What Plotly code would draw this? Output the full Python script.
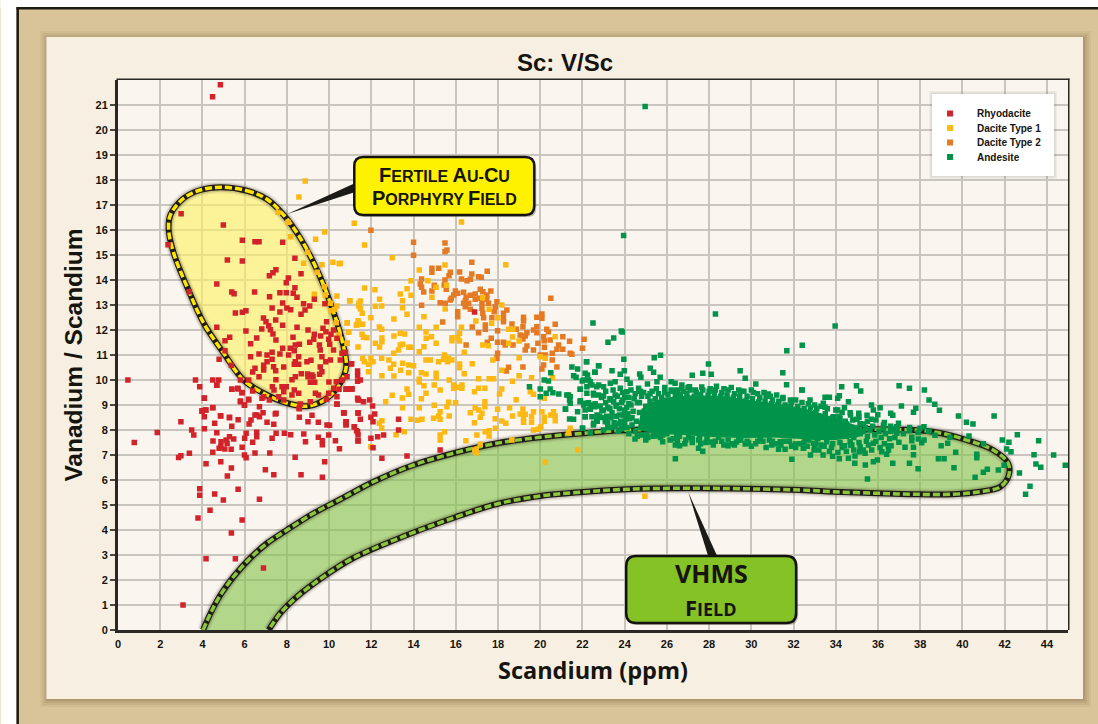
import plotly.graph_objects as go

title_text = "Sc: V/Sc"
x_title = "Scandium (ppm)"
y_title = "Vanadium / Scandium"
x_ticks = list(range(0, 45, 2))
y_ticks = list(range(0, 22))
legend_names = ["Rhyodacite", "Dacite Type 1", "Dacite Type 2", "Andesite"]

rhyodacite = [(4.48,21.33),(4.85,21.81),(2.99,16.65),(.47,10),(.77,7.5),(1.86,7.9),(3.08,1),(2.98,8.33),(3.49,8),(3.59,7.8),(2.87,6.9),(2.98,6.97),(3.38,7.07),(3.67,10),(3.87,9.73),(4.09,9.27),(3.98,8.75),(4.17,8.8),(4.09,8.53),(4.09,8.05),(4.49,10),(4.77,10),(4.68,9.8),(5.39,9.63),(5.69,9.64),(5.88,9.5),(5.8,9.13),(5.99,9),(6.19,9.2),(4.49,8.9),(4.87,8.56),(5.28,8.49),(5.69,8.41),(4.58,8.27),(5.39,8.15),(4.68,7.89),(4.5,7.56),(5.28,7.73),(5.48,7.64),(5.12,7.6),(4.88,7.53),(5.17,7.47),(4.87,7.33),(4.79,7.27),(5.06,7.24),(5.36,7.23),(4.49,7.11),(5.88,7.31),(5.99,7),(6.07,6.89),(6,7.67),(6.07,7.87),(6.38,7.51),(6.57,7.91),(6.57,7.73),(6.49,7.08),(7.19,7.08),(6.21,8.24),(6.3,8.4),(6.49,8.6),(6.7,8.53),(6.7,8.93),(6.87,8.69),(7.06,8.31),(7.38,8.23),(7.49,8.67),(7.3,7.67),(7.49,7.87),(7.88,7.87),(8.18,7.81),(8.8,7.84),(8.88,7.53),(8.59,8.51),(8.58,8.87),(9,8.33),(9.19,8.59),(9.49,8.31),(9.9,8.2),(10.02,8.19),(9.98,7.8),(9.49,7.71),(9.68,7.57),(9.68,7.41),(10.3,7.57),(10.49,7.25),(10.71,8.68),(10.81,8.33),(10.81,8.23),(11.2,8.13),(11.3,7.97),(11.37,7.8),(11.37,7.56),(10.38,9.03),(10.85,9.63),(10.47,9.63),(11.09,9.64),(11.37,9.2),(11.37,8.67),
(4.17,6.65),(4.87,6.73),(5.37,6.48),(5.18,6.16),(6.98,6.41),(7.38,6.21),(8.39,6.91),(8.67,6.21),(9.79,6.73),(9.68,6.11),(3.87,5.65),(3.87,5.39),(4.58,5.44),(4.99,5.2),(5.69,5.63),(6.7,5.23),(3.79,4.48),(4.36,4.79),(5.88,4.4),(5.37,3.88),(4.17,2.85),(5.56,2.85),(6.89,2.48),
(4.99,16.2),(2.37,15.41),(5.89,15.59),(6.49,15.53),(6.68,15.53),(7.8,15.51),(5.18,14.8),(5.89,14.76),(8.38,14.87),(7.48,14.41),(7.34,14.29),(7.17,14.17),(8.67,14.25),(8.07,14.08),(7.97,13.89),(4.68,13.84),(3.38,13.53),(5.39,13.52),(5.5,13.45),(6.47,13.52),(8.38,13.69),(8.3,13.47),(7.67,13.49),(7.97,13.49),(8.48,13.31),(7.18,13.33),(9.3,13.23),(7.8,13.08),(8.79,13.05),(9.08,12.96),(9.8,13.05),(7.3,12.88),(8.0,12.88),(8.18,12.81),(8.86,12.8),(5.56,12.68),(5.89,12.71),(6.06,12.77),(7.67,12.72),(8.67,12.63),(6.89,12.48),(7.01,12.33),(7.47,12.4),(7.14,12.17),(7.22,12.01),(7.8,12.19),(8.48,12.11),(9.88,12.33),(4.68,12.11),(6.06,11.96),(6.81,12.04),(9,12),(9.71,12.07),(7.34,11.84),(9.3,11.83),(9.6,11.76),(9.85,11.93),(10.09,11.83),(10.21,12),(5.29,11.71),(5.07,11.57),(6.57,11.68),(7.48,11.6),(8.29,11.71),(9.27,11.63),(9.98,11.63),(10.37,11.67),(9.08,11.51),(9.54,11.4),(10.03,11.43),(6.28,11.45),(7.8,11.27),(8.4,11.4),(8.59,11.43),(8.16,11.27),(8.35,11.17),(9.58,11.2),(10.21,11.2),(5.07,11.17),(6.28,10.93),(6.68,11.04),(7.06,11),(7.3,11.11),(7.67,11.04),(8.08,11),(8.56,10.93),(9.66,10.93),(10.06,10.8),(10.61,11.07),(10.77,11.11),(10.53,10.8),(4.79,10.83),(7.3,10.83),(7.06,10.73),(8.4,10.73),(8.56,10.63),(8.35,10.63),(8.95,10.73),(9.14,10.79),(9.84,10.73),(11.07,10.65),(5.37,10.59),(6.9,10.59),(7.37,10.53),(6.49,10.47),(7.85,10.52),(9.58,10.52),(6.9,10.4),(7.47,10.37),(6.38,10.32),(9.66,10.33),(9.55,10.23),(8.68,10.25),(8.98,10.24),(9.19,10.2),(6.68,10.13),(5.8,10),(6.19,10),(7.48,10.01),(8.24,10.01),(8.4,10.13),(9,10.13),(9.24,10.13),(9.11,9.91),(9.32,9.91),(9.99,9.92),(10.34,9.93),(10.61,10),(10.85,10.13),(11.35,10.17),(4.68,9.79),(5.39,9.63),(5.67,9.67),(5.87,9.49),(7.31,9.73),(7.39,9.6),(7.77,9.73),(7.97,9.73),(8.35,9.6),(7.85,9.53),(10.22,9.67),(10.8,9.63),(11.07,9.65),(11.35,9.95),(6.9,9.33),(6.38,9.56),(7.61,9.33),(8.24,9.4),(8.56,9.47),(9.35,9.47),(9.5,9.4),(9.98,9.47),(10.37,9.33),(4.09,9.28),(6.19,9.23),(5.8,9.16),(5.99,8.99),(6.82,9.27),(7.17,9.2),(7.85,9.2),(9.11,9.13),(8.64,9.04),(10.37,9.04),(9.87,9.23),(11.4,9.2),(4.49,8.89),(3.98,8.77),(4.14,8.8),(4.85,8.57),(5.28,8.51),(6.58,8.6),(7.45,8.64),(8.59,8.85),(10.69,8.69),
(11.05,10.64),(11.35,10.36),(11.48,10),(10.81,9.64),(11.05,9.64),(11.35,9.27),(11.63,9.13),(11.92,9.2),(12.06,8.96),(10.69,8.69),(11.37,8.69),(12.16,8.64),(11.98,8.51),(11.48,8.43),(12.08,8.33),(10.8,8.33),(10.8,8.2),(11.19,8.13),(11.35,7.93),(11.37,7.57),(11.98,7.67),(12.3,7.73),(12.58,7.8),(13.29,8.43),(13.29,8),(12.08,7.29),(12.5,6.87),(13.69,6.96),(15.26,7.2),(16.89,12.72)]

dacite_type_1 = [(11.19,16.27),(16.27,16.32),(11.68,15.4),(12.99,14.89),(10.53,14.67),(18.37,14.61),(14.27,14.4),(15.49,14.6),(13.88,13.97),(14.68,13.97),(11.68,13.68),(12.17,13.61),(13.69,13.65),(13.37,13.44),(13.88,13.39),(14.87,13.31),(15.07,13.71),(15.56,13.79),(10.97,13.17),(11.48,13.16),(12.39,13.23),(13.48,13.17),(11.4,13),(12.19,12.95),(12.49,12.96),(13.48,12.89),(11.48,12.85),(11.57,12.67),(13.69,12.63),(15.5,12.84),(17.27,13.29),(18.18,13),(17.58,12.83),(11.98,12.49),(13.07,12.44),(14.49,12.53),(17.99,12.49),(16.95,12.36),(11.37,12.37),(10.85,12.28),(11.29,12.2),(11.59,12.23),(12.38,12.12),(12.49,12.03),(14.27,12.11),(15.07,12.11),(16.27,12.11),(17.7,12.27),(18.5,12.03),(18.71,12.03),(10.92,11.91),(14.59,11.92),(16.18,11.87),(11.56,11.83),(11.63,11.71),(11.79,11.69),(12.5,11.68),(13.07,11.76),(13.37,11.87),(13.58,11.84),(14.85,11.73),(14.6,11.67),(15.82,11.69),(16.09,11.69),(18.69,11.72),(20.71,11.73),(19.0,11.56),(12.5,11.53),(12.19,11.47),(10.85,11.47),(15.07,11.47),(15.82,11.57),(16.18,11.56),(18.5,11.47),(17.28,11.4),(17.55,11.37),(11.37,11.32),(12.39,11.32),(13.37,11.4),(13.48,11.43),(13.29,11.2),(13.77,11.31),(13.88,11.31),(14.49,11.33),(13.06,11.07),(14.27,11.13),(16.4,11.11),(11.59,10.87),(11.98,10.87),(11.67,10.73),(12.49,10.87),(12.83,10.8),(12.08,10.73),(11.87,10.63),(13.06,10.63),(14.59,10.8),(14.79,10.8),(15.19,10.73),(15.47,11),(15.42,10.83),(15.66,10.87),(15.82,10.8),(15.61,10.73),(17.76,10.8),(19.0,10.89),(20.0,10.93),(20.24,10.87),(13.48,10.67),(13.77,10.6),(14,10.57),(16.18,10.64),(16.18,10.49),(16.78,10.65),(12.9,10.47),(13.39,10.39),(11.87,10.33),(13.77,10.29),(14.37,10.29),(14.59,10.24),(15.07,10.27),(15.07,10.09),(16.4,10.25),(18.18,10.39),(12.5,10.17),(13.07,10.16),(19,10.17),(14.27,10.03),(14.27,9.92),(15.69,10),(17.08,10.05),(17.58,10.05),(17.79,10.05),(18.69,9.95),(19.59,10.09),(20.58,10.09),(14.49,9.77),(14.98,9.8),(15.9,9.8),(15.9,9.67),(16.09,9.71),(16.29,9.8),(16.29,9.67),(13.69,9.64),(13.77,9.43),(14.59,9.47),(15.26,9.6),(16.89,9.53),(17.08,9.67),(17.38,9.67),(18.18,9.64),(18.07,9.44),(19.53,9.53),(19.68,9.43),(12.99,9.39),(13.47,9.28),(14.37,9.25),(12.68,9.13),(20.19,9.27),(18.86,9.21),(14.98,8.99),(15.66,9.11),(15.99,9.09),(15.58,8.93),(17.38,9.13),(17.38,8.93),(13.48,8.89),(14.27,8.89),(16.92,8.89),(17.08,8.8),(18.55,8.89),(17.98,8.83),(19.18,8.84),(19.68,8.73),(20.08,8.73),(20.63,8.73),(15.26,8.73),(16.69,8.69),(17.24,8.67),(19.05,8.64),(19.29,8.63),(18.69,8.56),(20.5,8.6),(20.71,8.56),(15.19,8.56),(15.69,8.56),(17.16,8.51),(14.95,8.47),(15.26,8.43),(13.88,8.43),(14.19,8.39),(14.4,8.43),(12.5,8.37),(12.38,8.27),(12.49,8.08),(17.87,8.45),(18.18,8.36),(18.37,8.27),(19.21,8.47),(19.21,8.31),(19.59,8.53),(19.59,8.31),(20.19,8.51),(20.19,8.35),(20.71,8.37),(16.89,8.29),(17.88,8.07),(13.56,7.93),(13.17,7.81),(15.47,7.93),(15.26,7.8),(17.39,7.93),(17.58,7.97),(17,7.8),(17.58,7.76),(15.26,7.6),(19.68,8),(19.92,8.03),(20.03,8.13),(21.42,8.07),(21.34,7.89),(16.48,7.57),(18.66,7.6),(17.16,7.43),(16.97,7.23),(16.97,7.09),(21.77,7.2),(11.98,7.33),
(8.87,17.96),(8.57,17.32),(7.58,16.71),(8.05,16.31),(9.79,15.92),(9.36,15.63),(8.18,15.73),(8.98,15.11),(8.79,14.67),(9.66,14.61),(10.18,14.71),(10.48,14.65),(9.43,14.31),(9.77,13.73),(9.3,13.43),(10.37,13.36),(10.99,13.17),(11.42,13.07),(9.82,13.4),(10.06,13.07),(10.37,12.96),(10.09,12.77),(10.26,12.83),(10.86,12.29),(11.42,12.27),(11.32,12.2),(10.34,12.29),(10.93,11.91),(10.48,11.8),(10.86,11.47),(11.42,12.96),(24.96,5.35),(20.24,6.72),(16.9,7.2)]

dacite_type_2 = [(11.98,15.99),(14,15.51),(15.49,15.48),(14,14.99),(15.49,15.13),(15.58,15.2),(16.76,14.71),(15.19,14.47),(14.87,14.47),(14.87,14.31),(16.18,14.32),(17.49,14.35),(15.74,14.31),(15.68,14.17),(16.76,14.24),(17.08,14.13),(17.21,14.11),(14.38,14.04),(15.49,14),(16.27,14.04),(16.53,13.97),(16.69,14.03),(14.32,13.84),(14.98,13.79),(15.45,13.8),(14.38,13.71),(14.48,13.52),(14.87,13.56),(15.55,13.63),(15.98,13.56),(16.09,13.47),(16.37,13.51),(17.16,13.63),(17.28,13.53),(17.66,13.56),(15.9,13.4),(15.79,13.27),(16.92,13.44),(16.69,13.39),(17.47,13.4),(16.49,13.31),(16.92,13.23),(16.45,13.17),(17.16,13.27),(17.47,13.23),(15.26,13.09),(15.5,13.07),(15.74,13.2),(16.37,13.07),(16.61,13.07),(17.24,13.07),(17.55,13.07),(17.95,13.13),(14.38,12.99),(16.45,12.93),(16.69,12.83),(17.24,12.87),(17.87,12.93),(18.42,12.8),(16.09,12.73),(16.09,12.53),(17.28,12.67),(17.82,12.73),(18.26,12.67),(17.32,12.49),(17.71,12.49),(18.26,12.47),(18.26,12.33),(15.38,12.32),(20.5,13.27),(19.21,12.51),(19.21,12.36),(20.08,12.64),(19.84,12.51),(20.08,12.47),(17.4,12.2),(18.66,12.24),(16.78,12.12),(17.4,12.03),(17.98,11.97),(18.86,12.03),(19.18,12.13),(19.84,12.13),(19.68,12),(20.71,12.23),(17.08,11.89),(20.31,12.03),(20.39,11.93),(19.37,11.89),(19.84,11.89),(19.29,11.76),(19.05,11.8),(20.16,11.73),(21.07,11.73),(19.18,11.64),(17.68,11.67),(17.49,11.51),(16.49,11.4),(17.98,11.51),(18.26,11.51),(18.34,11.4),(18.71,11.4),(19.89,11.47),(20.19,11.57),(20.47,11.6),(21.39,11.55),(22.08,11.63),(20.2,11.31),(20.87,11.4),(20.79,11.23),(21.07,11.23),(22,11.27),(19.37,11.36),(19.29,11.2),(19.68,11.2),(17.98,11.07),(20.57,11.07),(21.42,11.07),(21.5,11.03),(20,11),(20.24,11),(17.95,10.87),(20.57,10.8),(20.16,10.6),(20.08,10.44),(19.18,10.52),(20.79,10.52),(18.5,10.51),(18.39,10.36)]

andesite = [(24.97,20.94),(23.95,15.78),(23.84,11.96),(28.3,12.64),(33.97,12.16),(22.5,12.28),
(22.19,10.73),(21.5,10.52),(21.77,10.44),(22.76,10.57),(20.5,10.29),(21.58,10.17),(21.7,10.11),(22.13,10.27),(22.24,10.2),(22.6,10.31),(20.19,10),(20.39,9.96),(22.05,10),(22.29,10),(19.49,9.73),(20,9.64),(20.47,9.64),(21.89,9.63),(22.21,9.73),(22.45,9.8),(22.68,9.73),(20,9.33),(20.28,9.47),(20.6,9.49),(20.88,9.44),(21.26,9.4),(21.42,9.33),(22.21,9.47),(22.52,9.47),(22.76,9.4),(21.42,9.07),(21.2,8.83),(21.89,9.13),(22.13,9.07),(22.37,9),(21.77,8.73),(22.13,8.8),(22.6,8.93),(21.39,8.44),(21.58,8.43),(22.13,8.53),(22.45,8.53),(22.68,8.4),(22.52,8.2),(22,8.07),(22.37,7.89),
(23.89,11.92),(23.48,11.68),(23.21,11.51),(23.96,10.83),(25.7,10.99),(25.4,10.89),(22.2,10.73),(22.78,10.57),(23.4,10.37),(25.21,10.47),(23.98,10.37),(22.58,10.31),(27.97,10.64),(29.47,10.37),(31.49,10.29),(31.68,11.17),(32.41,11.39),(27.2,10.19),(27.7,10.27),(28.1,10.23),(29.71,10.07),(23.79,10.23),(24.71,10.24),(24.77,10.11),(25.37,10.31),(25.68,10.11),(26.2,9.93),(26.39,9.87),(26.71,9.8),(30.21,9.84),(31.67,9.81),(30.81,9.44),(32.41,9.6),(21.99,9.96),(22.37,9.93),(23.32,9.87),(23.55,9.93),(24.11,10.03),(24.26,9.87),(25.08,9.84),(25.53,9.93),(27.07,9.73),(21.9,9.63),(22.77,9.8),(23,9.73),(23.79,9.67),(24.66,9.67),(26.47,9.6),(21.34,9.4),(22.53,9.4),(23,9.36),(23.55,9.4),(24.11,9.53),(31.49,9.25),(21.39,9.2),(21.9,9.17),(22.29,9.09),(22.84,8.96),(23.48,9.13),(21.19,8.84),(22.06,9),(22.37,8.83),(22.92,8.77),(22.13,8.53),(22.69,8.6),(22.53,8.27),(23.08,8.33),(22.01,8.07),
(24.49,7.64),(25.8,7.53),(26.4,7.4),(26.6,7.37),(26.4,6.85),(27.5,7.27),(27.7,7.15),(28.9,7.37),(29.71,7.44),(30.97,7.4),(31.29,7.23),(31.6,7.23),(31.92,6.83),(32.47,7.27),(25.05,7.8),(25.6,7.76),(26.47,7.73),(27.03,7.71),(27.5,7.6),(28.1,7.52),(28.45,7.71),(29.3,7.52),(29.87,7.47),(30.42,7.67),(31.37,7.53),(32.08,7.44),(32.71,7.6),
(34.28,9.73),(34.98,9.77),(35.18,9.56),(37,9.77),(37.49,9.67),(38.2,9.6),(32.39,9.6),(34.17,9.37),(34.09,9.27),(33.49,9.31),(33.7,9.31),(34.6,9.13),(32.78,9.2),(38.42,9.2),(38.69,9.03),(33.41,9.07),(33.49,8.91),(35.69,9),(36.1,8.89),(37.11,8.96),(37.79,8.87),(38.91,8.79),(37.68,8.71),(35.78,8.8),(34.41,8.89),(34.09,8.8),(34.68,8.69),(35.09,8.67),(35.99,8.61),(35.48,8.59),(36.6,8.67),(36.7,8.59),(39.81,8.56),(41.5,8.56),(40.19,8.31),(40.5,8.24),(35.69,8.43),(34.99,8.43),(34.2,8.47),(33.89,8.53),(33.65,8.33),(34.52,8.24),(35.31,8.24),(36.26,8.2),(36.97,8.27),(36.89,8.13),(38.18,8.13),(37.99,8.07),(34.99,8.07),(35.62,8),(36.65,8),(37.49,7.97),(36.26,8.07),(34.36,8),(36.89,7.87),(37.6,7.71),(37.6,7.57),(38.7,7.79),(39.41,7.71),(40.31,7.76),(42.6,7.81),(41.89,7.6),(42.2,7.51),(43.61,7.57),(40.99,7.45),(37.91,7.64),(38.18,7.6),(38.07,7.49),(36.99,7.51),(39.3,7.47),(38.99,7.37),(34.68,7.53),(34.41,7.37),(34.76,7.4),(35.15,7.33),(35.55,7.4),(35.78,7.47),(36.49,7.37),(36.62,7.37),(37.28,7.31),(37.68,7.31),(42.09,7.24),(42.3,7.13),(39.68,7.11),(36.18,7.13),(36.41,7.03),(35.12,7.13),(35.39,7.07),(34.91,6.96),(37.68,7.01),(40.68,7.03),(40.68,6.89),(43.39,7.01),(44.32,7),(34.17,6.85),(34.6,6.87),(38.86,6.85),(39.13,6.85),(35.97,6.8),(35.78,6.73),(34.9,6.67),(35.4,6.6),(36.7,6.67),(37.49,6.67),(43.48,6.64),(43.71,6.51),(44.87,6.59),(41.97,6.59),(37.9,6.45),(39.6,6.49),(41.7,6.4),(41.18,6.43),(40.99,6.31),(42.7,6.28),(35.5,6.04),(40.6,6.11),(43.2,5.75),(42.99,5.43),(32.47,7.27),(32.97,7.2),(33.57,7.53),(32.94,7.47),
(23.2,8.9),(23.4,8.7),(23.6,8.95),(23.75,8.6),(23.9,9.2),(24,8.8),(24.2,9.3),(24.35,8.5),(24.5,9.45),(24.7,9.1),(24.9,9.5),(25.1,9.35),(25.3,9.55),(25.6,9.45),(25.9,9.5),(26.2,9.6),(26.5,9.45),(26.8,9.55),(27.1,9.6),(27.4,9.5),(27.7,9.6),(28,9.55),(28.3,9.6),(28.6,9.5),(28.9,9.6),(29.2,9.45),(29.5,9.55),(29.8,9.35),(30.1,9.5),(30.4,9.3),(30.7,9.35),(31,9.2),(31.3,9.15),(31.6,9),(31.9,9.1),(32.2,8.95),(32.5,8.85),(32.8,8.9),(33.1,8.85),
(23.2,8.1),(23.5,8.3),(23.7,7.95),(24,8.15),(24.2,7.85),(24.5,7.95),(24.8,7.8),(25.1,7.7),(25.4,7.85),(25.7,7.7),(26,7.85),(26.3,7.65),(26.6,7.75),(26.9,7.6),(27.2,7.65),(27.6,7.45),(27.9,7.65),(28.2,7.4),(28.6,7.55),(28.9,7.6),(29.2,7.4),(29.5,7.6),(30,7.35),(30.3,7.55),(30.7,7.3),(31,7.55),(31.4,7.4),(31.8,7.55),(32.1,7.3),(32.5,7.5),(33,7.3),(33.3,7.4),(33.8,7.3),(34.2,7.5),
(22.9,8.5),(23.15,8.55),(23.35,9.2),(23.55,8.15),(23.8,8.35),(24.05,8.45),(24.15,8.65),(24.3,9.0),
(23.1,9.55),(23.45,9.6),(23.9,9.5),(24.3,9.6),(24.75,9.55),(22.9,9.3),(23.3,9.25),(23.65,9.35),(24.0,9.3),(24.45,9.25),(24.8,9.35),(25.2,9.45),(22.6,9.05),(23.1,9.1),(23.6,9.0),(23.85,9.1),(24.2,9.05),(24.6,9.1),(23.0,8.8),(23.3,8.85),(23.75,8.85),(24.1,8.9),(24.4,8.75),(22.8,8.55),(23.35,8.5),(23.6,8.55),(23.95,8.6),(24.25,8.45),(22.7,8.35),(23.2,8.3),(23.75,8.25),(24.0,8.35),(23.4,8.1),(23.85,8.05),(24.1,8.1),(24.35,8.2),(23.0,8.0),
(25.5,9.65),(25.9,9.7),(26.3,9.55),(26.7,9.65),(27.0,9.7),(27.35,9.6),(27.65,9.72),(28.05,9.65),(28.35,9.75),(28.7,9.65),(29.05,9.7),(29.4,9.6),(29.65,9.55),(30,9.6),(30.3,9.45),(30.6,9.5),(30.9,9.35),(31.2,9.4),(31.5,9.3),(31.85,9.2),(32.1,9.2),(32.4,9.1),(32.7,9.05),(33,9),(33.3,8.95),(33.6,8.85),(34,8.8),(34.3,8.7),(34.7,8.6),(35.1,8.5),(35.5,8.35),(35.9,8.4),(36.3,8.3),(36.6,8.15),
(24.6,7.75),(25,7.6),(25.35,7.75),(25.8,7.8),(26.15,7.6),(26.5,7.55),(26.85,7.45),(27.2,7.5),(27.55,7.65),(27.85,7.5),(28.3,7.55),(28.7,7.4),(29.1,7.45),(29.4,7.6),(29.8,7.55),(30.2,7.45),(30.55,7.55),(30.85,7.6),(31.15,7.45),(31.55,7.55),(31.9,7.35),(32.3,7.45),(32.65,7.35),(33.05,7.45),(33.45,7.35),(33.85,7.45),(34.3,7.3),(34.7,7.4),(35.1,7.5),(35.45,7.55),(35.9,7.55),(36.3,7.45),(36.8,7.7),(36.9,8),(37.2,7.85),(37.5,8.1),(37.9,7.9),(38.4,7.95),(33.2,7.2),(33.7,7.15),(34.1,7.1),(34.5,7.15),(34.85,7.2),(35.3,7.2),(35.7,7.2),(36.1,7.3),(36.5,7.2),(32.8,7),(33.4,7),(33.85,6.95),
(33.2,8.55),(33.5,8.65),(33.85,8.5),(34.15,8.55),(34.45,8.35),(34.8,8.4),(35.15,8.25),(35.4,8.1),(35.75,8.15),(36.05,7.95),(36.35,7.85),(36.6,7.95),(35.85,7.8),(35.5,7.75),(35.15,7.85),(34.85,7.7),(34.5,7.75),(34.15,7.8),(33.8,7.7),(33.45,7.75),(33.15,7.65),(32.85,7.75),(32.55,7.7),(36.15,7.7),(36.55,7.65),
(24.55,8.35),(24.7,8.7),(24.85,8.15),(25.0,8.95),(25.2,9.15),(25.45,9.25),(25.75,9.3),(26.05,9.42),(26.4,9.35),(26.65,9.42),(26.95,9.45),(27.3,9.35),(27.6,9.42),(27.95,9.38),(28.25,9.45),(28.55,9.35),(28.85,9.4),(29.15,9.3),(29.45,9.35),(29.75,9.18),(30.05,9.25),(30.35,9.12),(30.65,9.15),(30.95,9.05),(31.25,9),(31.55,8.9),(31.85,8.95),(32.15,8.8),(32.45,8.75),(32.75,8.7),(33.05,8.7)]

# Where the Andesite points overlap completely they read as one solid mass.
andesite_dense_x = [24.6,24.8,25.3,25.9,27.3,28.8,30.3,31.7,33,33.9,34.6,35.2,35.5,35,34,33,32.2,31,29.5,28,26.8,25.6]
andesite_dense_y = [8.0,8.85,9.12,9.3,9.4,9.35,9.15,9.0,8.75,8.5,8.3,8.1,7.9,7.7,7.6,7.6,7.65,7.7,7.68,7.72,7.8,7.85]

porphyry_field_x = [4.85,6.11,7.06,7.85,8.64,9.43,10.06,10.61,10.81,10.53,9.9,9.03,8.16,7.06,5.95,5.0,4.06,3.27,2.64,2.4,2.48,3.11,3.9,4.85]
porphyry_field_y = [17.71,17.57,17.23,16.6,15.67,14.4,13.08,11.6,10.53,9.88,9.27,8.96,9.04,9.4,10,11.08,12.27,13.73,15.07,16,16.6,17.27,17.6,17.71]
vhms_field_x = [4.03,4.4,4.85,5.47,6.27,7.06,8.0,9.26,10.53,12.1,14,15.98,17.95,20,22.04,23.8,29.0,35.5,38.6,40.2,41.45,42.16,42.2,41.8,40.83,39.56,37.66,35.94,33.88,32.3,27.1,24.1,22.04,20,17.95,15.98,13.69,11.15,9.73,8.48,7.69,7.14]
vhms_field_y = [0,.7,1.4,2.13,2.88,3.47,4.0,4.67,5.23,5.93,6.6,7.09,7.47,7.71,7.87,7.98,8.08,8.04,7.93,7.6,7.2,6.68,6.2,5.73,5.53,5.43,5.43,5.47,5.53,5.6,5.67,5.63,5.52,5.36,5.04,4.51,3.8,2.88,2.13,1.33,.67,0]

RED, YELLOW, ORANGE, GREEN = "#d2232a", "#fdb913", "#e57a24", "#00934a"
L, R, T, B = 117.6, 1068.0, 80.0, 630.0
px = lambda p: (p - L) / (R - L)
py = lambda p: (B - p) / (B - T)

def rect(x0, y0, x1, y1, fill, layer="below"):
    return dict(type="rect", xref="paper", yref="paper", x0=px(x0), x1=px(x1), y0=py(y0), y1=py(y1),
                fillcolor=fill, line_width=0, layer=layer)

def rrect_path(x0, y0, x1, y1, r):
    a, b, c, d = px(x0), px(x1), py(y0), py(y1)
    rx, ry = r / (R - L), r / (B - T)
    return (f"M{a+rx},{c} L{b-rx},{c} Q{b},{c} {b},{c-ry} L{b},{d+ry} Q{b},{d} {b-rx},{d} "
            f"L{a+rx},{d} Q{a},{d} {a},{d+ry} L{a},{c-ry} Q{a},{c} {a+rx},{c} Z")

def tri(pts):
    return "M" + " L".join(f"{px(a)},{py(b)}" for a, b in pts) + " Z"

shapes = [rect(0, 0, 1098, 8, "#ffffff"), rect(0, 0, 16, 724, "#ffffff"),
          rect(16, 7, 1098, 9.5, "#1e1a14"), rect(16, 7, 18.5, 724, "#1e1a14")]
for g, a in ((8, .05), (6, .07), (4, .09), (2, .12)):
    shapes.append(rect(46 - g + 2, 37 - g + 2, 1083 + g, 699 + g, f"rgba(80,60,25,{a})"))
shapes += [rect(46, 37, 1083, 699, "#f7f0e2"), rect(L, T, R, B, "#faf6ef"),
           rect(L - 1.5, T - 1.5, R + 1.5, T, "#2b2723", "above"), rect(R, T - 1.5, R + 1.5, B, "#2b2723", "above")]

# callouts
for path, fill in ((tri([(355, 183), (355, 192), (287, 214)]), "#1c1a16"),
                   (tri([(708, 556), (717, 556), (688, 492)]), "#1c1a16")):
    shapes.append(dict(type="path", xref="paper", yref="paper", path=path, fillcolor=fill, line_width=0, layer="above"))
for box, fill, r in (((354, 157, 534, 215), "#fff200", 9), ((626, 556, 796, 623), "#84c225", 10)):
    x0, y0, x1, y1 = box
    shapes.append(dict(type="path", xref="paper", yref="paper", path=rrect_path(x0 + 1, y0 + 2, x1 + 2, y1 + 2, r),
                       fillcolor="rgba(40,30,10,.3)", line_width=0, layer="above"))
    shapes.append(dict(type="path", xref="paper", yref="paper", path=rrect_path(x0, y0, x1, y1, r),
                       fillcolor=fill, line=dict(color="#15130f", width=2.5), layer="above"))

# legend box
for g, a in ((3, .06), (1.5, .1)):
    shapes.append(rect(932 - g, 94 - g, 1054 + g, 176 + g, f"rgba(70,70,70,{a})", "above"))
shapes.append(rect(932, 94, 1054, 176, "#ffffff", "above"))
legend_rows = [113.5, 128, 142.5, 157]
legend_colors = [RED, YELLOW, ORANGE, GREEN]
for yy, c in zip(legend_rows, legend_colors):
    shapes.append(rect(947, yy - 3, 953, yy + 3, c, "above"))

fig = go.Figure()

def field(xs, ys, fill, dash_color):
    fig.add_trace(go.Scatter(x=xs, y=ys, mode="none", fill="toself", fillcolor=fill, hoverinfo="skip", showlegend=False))
    for w, c in ((12, "rgba(50,40,20,.08)"), (9, "rgba(50,40,20,.16)")):
        fig.add_trace(go.Scatter(x=xs, y=ys, mode="lines", line=dict(color=c, width=w, shape="spline"), hoverinfo="skip", showlegend=False))
    fig.add_trace(go.Scatter(x=xs, y=ys, mode="lines", line=dict(color="#1f1c16", width=6, shape="spline"), hoverinfo="skip", showlegend=False))
    fig.add_trace(go.Scatter(x=xs, y=ys, mode="lines", line=dict(color=dash_color, width=3.5, shape="spline", dash="7px,3px"), hoverinfo="skip", showlegend=False))

field(vhms_field_x, vhms_field_y, "rgba(130,195,70,.6)", "#8cc63f")
field(porphyry_field_x, porphyry_field_y, "rgba(254,240,100,.62)", "#ffe600")

fig.add_trace(go.Scatter(x=andesite_dense_x + andesite_dense_x[:1], y=andesite_dense_y + andesite_dense_y[:1], mode="none",
                         fill="toself", fillcolor=GREEN, hoverinfo="skip", showlegend=False))

for name, pts, c in ((legend_names[2], dacite_type_2, ORANGE), (legend_names[1], dacite_type_1, YELLOW),
                     (legend_names[0], rhyodacite, RED), (legend_names[3], andesite, GREEN)):
    fig.add_trace(go.Scatter(x=[p[0] for p in pts], y=[p[1] for p in pts], mode="markers", name=name, showlegend=False,
                             marker=dict(symbol="square", size=5.5, color=c, line_width=0)))

ann = []
def text(x, y, t, size, family="Liberation Sans", color="#16140f", anchor="center", bold=True):
    ann.append(dict(xref="paper", yref="paper", x=px(x), y=py(y), text=t, showarrow=False, xanchor=anchor, yanchor="middle",
                    font=dict(size=size, family=family, color=color, weight=700 if bold else 400)))

def sc(t, small):
    out, buf = "", ""
    for ch in t:
        if ch.isupper():
            if buf:
                out += f'<span style="font-size:{small}px">{buf}</span>'; buf = ""
            out += ch
        else:
            buf += ch.upper()
    if buf:
        out += f'<span style="font-size:{small}px">{buf}</span>'
    return out

text(444, 175, sc("Fertile Au-Cu", 16), 20)
text(444, 198, sc("Porphyry Field", 16), 20)
text(711, 573, "VHMS", 25, family="Open Sans")
text(711, 607, sc("Field", 18), 22, family="Open Sans")
for yy, n in zip(legend_rows, legend_names):
    text(974.5, yy + .5, n, 10, anchor="left")

fig.update_layout(
    width=1098, height=724, autosize=False, showlegend=False,
    margin=dict(l=L, r=1098 - R, t=T, b=724 - B, autoexpand=False),
    paper_bgcolor="#d9c398", plot_bgcolor="rgba(0,0,0,0)",
    title=dict(text=title_text, x=565 / 1098, xanchor="center", y=1 - 63 / 724, yanchor="middle",
               font=dict(family="Liberation Sans", size=24, color="#16140f", weight=700)),
    shapes=shapes, annotations=ann,
    xaxis=dict(range=[0, 45], tickmode="array", tickvals=x_ticks, ticktext=[str(v) for v in x_ticks], showgrid=True,
               gridcolor="#c9c6c0", gridwidth=2, zeroline=False, showline=True, linecolor="#2b2723", linewidth=3, ticks="",
               ticklabelstandoff=2, tickfont=dict(family="Liberation Sans", size=11, color="#16140f", weight=700),
               title=dict(text=x_title, standoff=14, font=dict(family="Open Sans", size=23.5, color="#16140f", weight=700))),
    yaxis=dict(range=[0, 22], tickmode="array", tickvals=y_ticks, ticktext=[str(v) for v in y_ticks], showgrid=True,
               gridcolor="#c9c6c0", gridwidth=2, zeroline=False, showline=True, linecolor="#2b2723", linewidth=3, ticks="outside",
               ticklen=5, tickwidth=1.5, tickcolor="#4a4640",
               tickfont=dict(family="Liberation Sans", size=11, color="#16140f", weight=700),
               title=dict(text=y_title, standoff=6, font=dict(family="Liberation Sans", size=24.5, color="#16140f", weight=700))),
)

fig.write_html("out.html", config={"displayModeBar": False},
               post_script="document.body.style.margin='0';document.body.style.overflow='hidden';")
